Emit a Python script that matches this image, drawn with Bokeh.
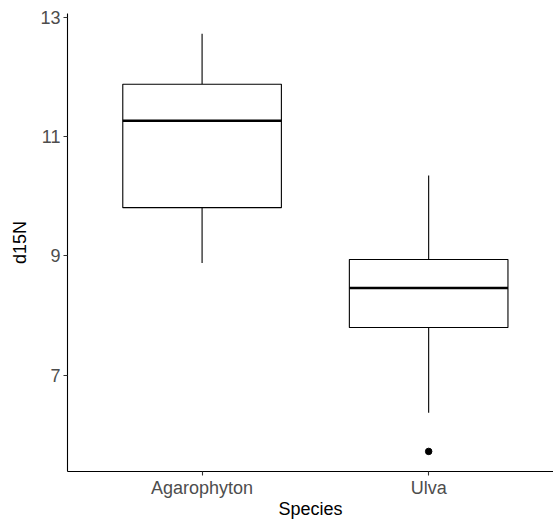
from bokeh.plotting import figure
from bokeh.models import Range1d, FixedTicker, ColumnDataSource
from bokeh.embed import file_html
from bokeh.resources import INLINE

species = ["Agarophyton", "Ulva"]
xpos = [1, 2]
whisker_low = [8.88, 6.37]
q1 = [9.81, 7.80]
median = [11.27, 8.46]
q3 = [11.88, 8.94]
whisker_high = [12.73, 10.35]
outlier_species_pos = [2]
outlier_values = [5.72]

box_width = 0.7

p = figure(width=553, height=521, output_backend="svg", toolbar_location=None,
           x_range=Range1d(0.406, 2.551), y_range=Range1d(5.383, 13.068),
           min_border_left=67, min_border_right=0, min_border_top=13, min_border_bottom=50)

src = ColumnDataSource(dict(x=xpos, lo=whisker_low, q1=q1, med=median, q3=q3, hi=whisker_high,
                            left=[v - box_width / 2 for v in xpos],
                            right=[v + box_width / 2 for v in xpos]))

p.segment(x0="x", y0="q3", x1="x", y1="hi", source=src, line_color="black", line_width=1.1)
p.segment(x0="x", y0="lo", x1="x", y1="q1", source=src, line_color="black", line_width=1.1)
p.vbar(x="x", width=box_width, bottom="q1", top="q3", source=src,
       fill_color="white", line_color="black", line_width=1.1)
p.segment(x0="left", y0="med", x1="right", y1="med", source=src, line_color="black", line_width=2.5)
p.scatter(outlier_species_pos, outlier_values, size=6.5, color="black")

p.xgrid.visible = False
p.ygrid.visible = False
p.outline_line_color = None

p.xaxis.ticker = FixedTicker(ticks=xpos)
p.xaxis.major_label_overrides = {v: s for v, s in zip(xpos, species)}
p.yaxis.ticker = FixedTicker(ticks=[7, 9, 11, 13])
p.xaxis.minor_tick_line_color = None
p.yaxis.minor_tick_line_color = None

for ax in (p.xaxis, p.yaxis):
    ax.axis_line_color = "black"
    ax.axis_line_width = 1.1
    ax.major_tick_line_color = "#333333"
    ax.major_tick_line_width = 1.1
    ax.major_tick_in = 0
    ax.major_tick_out = 4
    ax.major_label_text_font = "Liberation Sans"
    ax.major_label_text_font_size = "18px"
    ax.major_label_text_color = "#4d4d4d"
    ax.axis_label_text_font = "Liberation Sans"
    ax.axis_label_text_font_size = "18px"
    ax.axis_label_text_font_style = "normal"
    ax.axis_label_text_color = "black"

p.xaxis.major_label_standoff = 2
p.yaxis.major_label_standoff = 3
p.xaxis.axis_label = "Species"
p.yaxis.axis_label = "d15N"
p.xaxis.axis_label_standoff = -2
p.yaxis.axis_label_standoff = 7

open("out.html", "w").write(file_html(p, INLINE))
